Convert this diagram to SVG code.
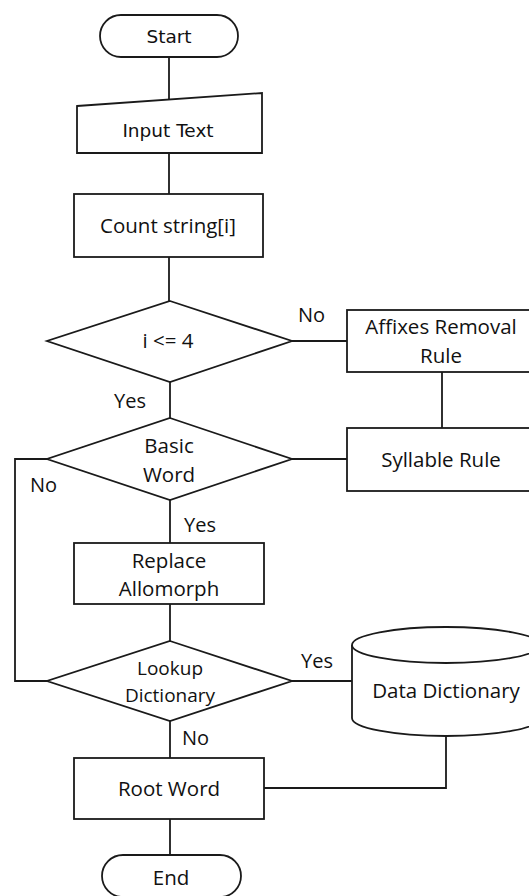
<svg xmlns="http://www.w3.org/2000/svg" width="529" height="896" viewBox="0 0 529 896">
<style>
.s{fill:#fff;stroke:#1a1a1a;stroke-width:1.8}
.c{fill:none;stroke:#1a1a1a;stroke-width:1.8}
.t{font-family:"Open Sans","Noto Sans",sans-serif;font-size:20.5px;fill:#111;text-anchor:middle}
.d{font-family:"DejaVu Sans",sans-serif;font-size:18.5px;fill:#111;text-anchor:middle}
.sm{font-size:19px}
.l{font-family:"Open Sans","Noto Sans",sans-serif;font-size:20px;fill:#111}
</style>
<rect width="529" height="896" fill="#fff"/>
<g id="connectors">
<path class="c" d="M169,57V100"/>
<path class="c" d="M169,153V194"/>
<path class="c" d="M169,257V301"/>
<path class="c" d="M292,341H347"/>
<path class="c" d="M442,372V428"/>
<path class="c" d="M170,382V418"/>
<path class="c" d="M292,459H347"/>
<path class="c" d="M47,459H15V681H47"/>
<path class="c" d="M170,500V543"/>
<path class="c" d="M170,604V641"/>
<path class="c" d="M292,681H352"/>
<path class="c" d="M170,721V758"/>
<path class="c" d="M264,788H446V736"/>
<path class="c" d="M170,819V855"/>
<text class="l" x="298" y="322">No</text>
<text class="l" x="114" y="408">Yes</text>
<text class="l" x="30" y="492">No</text>
<text class="l" x="184" y="532">Yes</text>
<text class="l" x="301" y="668">Yes</text>
<text class="l" x="182" y="745">No</text>
</g>
<g id="start"><rect class="s" x="100" y="15" width="138" height="42" rx="21"/><text class="d" x="169" y="43">Start</text></g>
<g id="input"><polygon class="s" points="77,106 262,93 262,153 77,153"/><text class="d" x="168" y="137">Input Text</text></g>
<g id="count"><rect class="s" x="74" y="194" width="189" height="63"/><text class="t" x="168" y="233">Count string[i]</text></g>
<g id="cond1"><polygon class="s" points="170,301 292,341 170,382 47,341"/><text class="t" x="168" y="348">i &lt;= 4</text></g>
<g id="affixes"><rect class="s" x="347" y="310" width="200" height="62"/><text class="t" x="441" y="334">Affixes Removal</text><text class="t" x="441" y="363">Rule</text></g>
<g id="syllable"><rect class="s" x="347" y="428" width="200" height="63"/><text class="t" x="441" y="467">Syllable Rule</text></g>
<g id="basic"><polygon class="s" points="170,418 292,459 170,500 47,459"/><text class="t" x="169" y="453">Basic</text><text class="t" x="169" y="482">Word</text></g>
<g id="replace"><rect class="s" x="74" y="543" width="190" height="61"/><text class="t" x="169" y="568">Replace</text><text class="t" x="169" y="596">Allomorph</text></g>
<g id="lookup"><polygon class="s" points="170,641 292,681 170,721 47,681"/><text class="t sm" x="170" y="675">Lookup</text><text class="t sm" x="170" y="702">Dictionary</text></g>
<g id="datadict"><path class="s" d="M352,645V718A94,18 0 0 0 540,718V645"/><ellipse class="s" cx="446" cy="645" rx="94" ry="18"/><text class="t" x="446" y="698">Data Dictionary</text></g>
<g id="root"><rect class="s" x="74" y="758" width="190" height="61"/><text class="t" x="169" y="796">Root Word</text></g>
<g id="end"><rect class="s" x="102" y="855" width="139" height="42" rx="21"/><text class="t" x="171" y="885">End</text></g>
</svg>
